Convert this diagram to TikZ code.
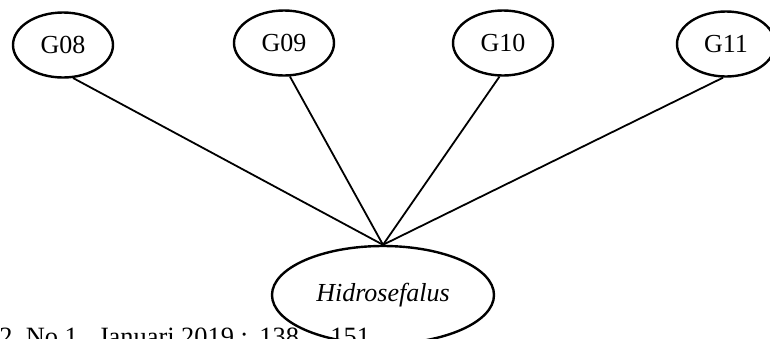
\documentclass[tikz,border=0pt]{standalone}
\usepackage{fontspec}
\setmainfont{Liberation Serif}
\usetikzlibrary{shapes.geometric}
\begin{document}
\begin{tikzpicture}[x=0.5pt,y=-0.5pt,
  gnode/.style={ellipse,draw,line width=1.2pt,inner sep=0pt,minimum width=50pt,minimum height=32.5pt,font=\fontsize{13}{15}\selectfont},
  hnode/.style={ellipse,draw,line width=1.2pt,inner sep=0pt,minimum width=111pt,minimum height=49pt,font=\fontsize{13}{15}\selectfont\itshape},
  edge/.style={line width=0.9pt},
  foot/.style={anchor=base west,inner sep=0pt,font=\fontsize{13.2}{15}\selectfont}]
\useasboundingbox (0,0) rectangle (770,338);
\clip (0,0) rectangle (770,338);
\node[foot] (f1) at (-1,345) {2, No 1,};
\node[foot] (f2) at (98,345) {Januari 2019 :};
\node[foot] (f3) at (259,345) {138};
\node[foot] (f4) at (330,345) {151};
\node[gnode] (g08) at (63,45) {G08};
\node[gnode] (g09) at (284,43) {G09};
\node[gnode] (g10) at (503,43) {G10};
\node[gnode,minimum width=49pt] (g11) at (726,44) {G11};
\node[hnode] (hid) at (383,295) {Hidrosefalus};
\draw[edge] (g08.-73) -- (hid.north);
\draw[edge] (g09.-80) -- (hid.north);
\draw[edge] (g10.-96) -- (hid.north);
\draw[edge] (g11.-95) -- (hid.north);
\end{tikzpicture}
\end{document}
